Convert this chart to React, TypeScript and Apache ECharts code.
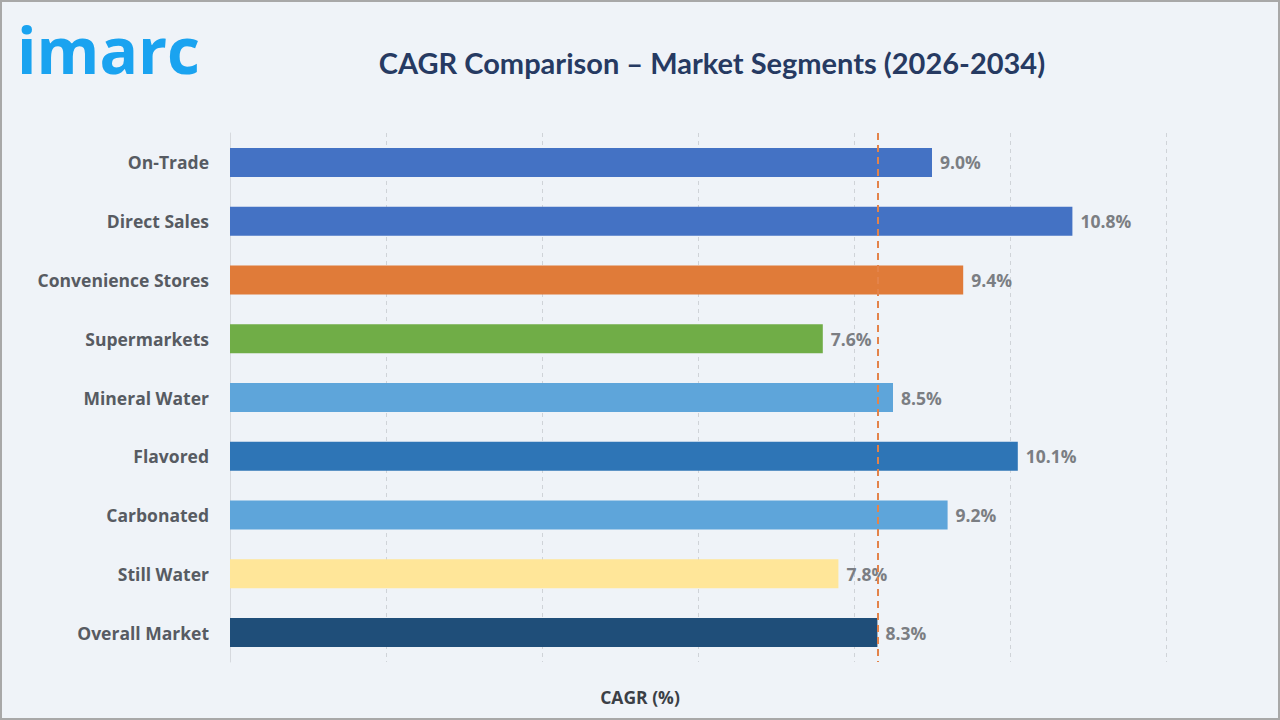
import React, { useEffect, useRef } from "react";
import * as echarts from "echarts";

const categories = [
  "On-Trade",
  "Direct Sales",
  "Convenience Stores",
  "Supermarkets",
  "Mineral Water",
  "Flavored",
  "Carbonated",
  "Still Water",
  "Overall Market",
];
const cagrValues = [9.0, 10.8, 9.4, 7.6, 8.5, 10.1, 9.2, 7.8, 8.3];
const barColors = [
  "#4472c4",
  "#4472c4",
  "#e07b39",
  "#70ad47",
  "#5ea5da",
  "#2e75b6",
  "#5ea5da",
  "#ffe699",
  "#1f4e79",
];
const overallCagr = 8.3;
const xTicks = [0, 2, 4, 6, 8, 10, 12];

const TITLE_FONT = "Lato, 'Open Sans', sans-serif";
const FONT = "'Open Sans', sans-serif";

export default function App() {
  const ref = useRef<HTMLDivElement>(null);
  useEffect(() => {
    if (!ref.current) return;
    const chart = echarts.init(ref.current, null, { renderer: "svg" });
    chart.setOption({
      animation: false,
      backgroundColor: "#eff3f8",
      textStyle: { fontFamily: FONT },
      title: {
        text: "CAGR Comparison \u2013 Market Segments (2026-2034)",
        left: 707,
        textAlign: "center",
        top: 43,
        textStyle: {
          fontFamily: TITLE_FONT,
          fontSize: 29,
          fontWeight: "bold",
          color: "#263a62",
        },
      },
      grid: { left: 230, right: 114, top: 133, bottom: 58, containLabel: false },
      xAxis: {
        type: "value",
        min: xTicks[0],
        max: xTicks[xTicks.length - 1],
        interval: 2,
        axisLabel: { show: false },
        axisLine: { show: false },
        axisTick: { show: false },
        splitLine: { show: true, lineStyle: { color: "#cfd3d8", type: [4, 4], width: 1 } },
      },
      yAxis: {
        type: "category",
        data: categories,
        inverse: true,
        axisLine: { show: true, lineStyle: { color: "#d6d9de", width: 1 } },
        axisTick: { show: false },
        axisLabel: {
          margin: 21,
          fontFamily: FONT,
          fontSize: 17.5,
          fontWeight: "bold",
          color: "#575b62",
        },
      },
      series: [
        {
          type: "bar",
          data: cagrValues.map((v, i) => ({ value: v, itemStyle: { color: barColors[i] } })),
          barWidth: 29,
          label: {
            show: true,
            position: "right",
            distance: 8,
            formatter: (p: any) => p.value.toFixed(1) + "%",
            fontFamily: FONT,
            fontSize: 17.5,
            fontWeight: "bold",
            color: "#7b7e83",
          },
          markLine: {
            silent: true,
            symbol: "none",
            label: { show: false },
            lineStyle: { color: "#e3834a", type: [7, 5], width: 2 },
            data: [{ xAxis: overallCagr }],
          },
        },
      ],
      graphic: [
        {
          type: "rect",
          shape: { x: 1, y: 1, width: 1278, height: 718 },
          style: { fill: "none", stroke: "#a8a8a8", lineWidth: 2 },
          silent: true,
        },
        {
          type: "text",
          x: 17,
          y: 17,
          style: {
            text: "imarc",
            fontFamily: "'Open Sans', sans-serif",
            fontSize: 64,
            fontWeight: "bold",
            fill: "#1aa3f0",
          },
        },
        {
          type: "text",
          x: 640,
          y: 697,
          style: {
            text: "CAGR (%)",
            fontFamily: FONT,
            fontSize: 17.5,
            fontWeight: "bold",
            fill: "#3b3f46",
            textAlign: "center",
            textVerticalAlign: "middle",
          },
        },
      ],
    });
    return () => chart.dispose();
  }, []);
  return (
    <div
      ref={ref}
      style={{ position: "absolute", left: 0, top: 0, width: 1280, height: 720 }}
    />
  );
}
